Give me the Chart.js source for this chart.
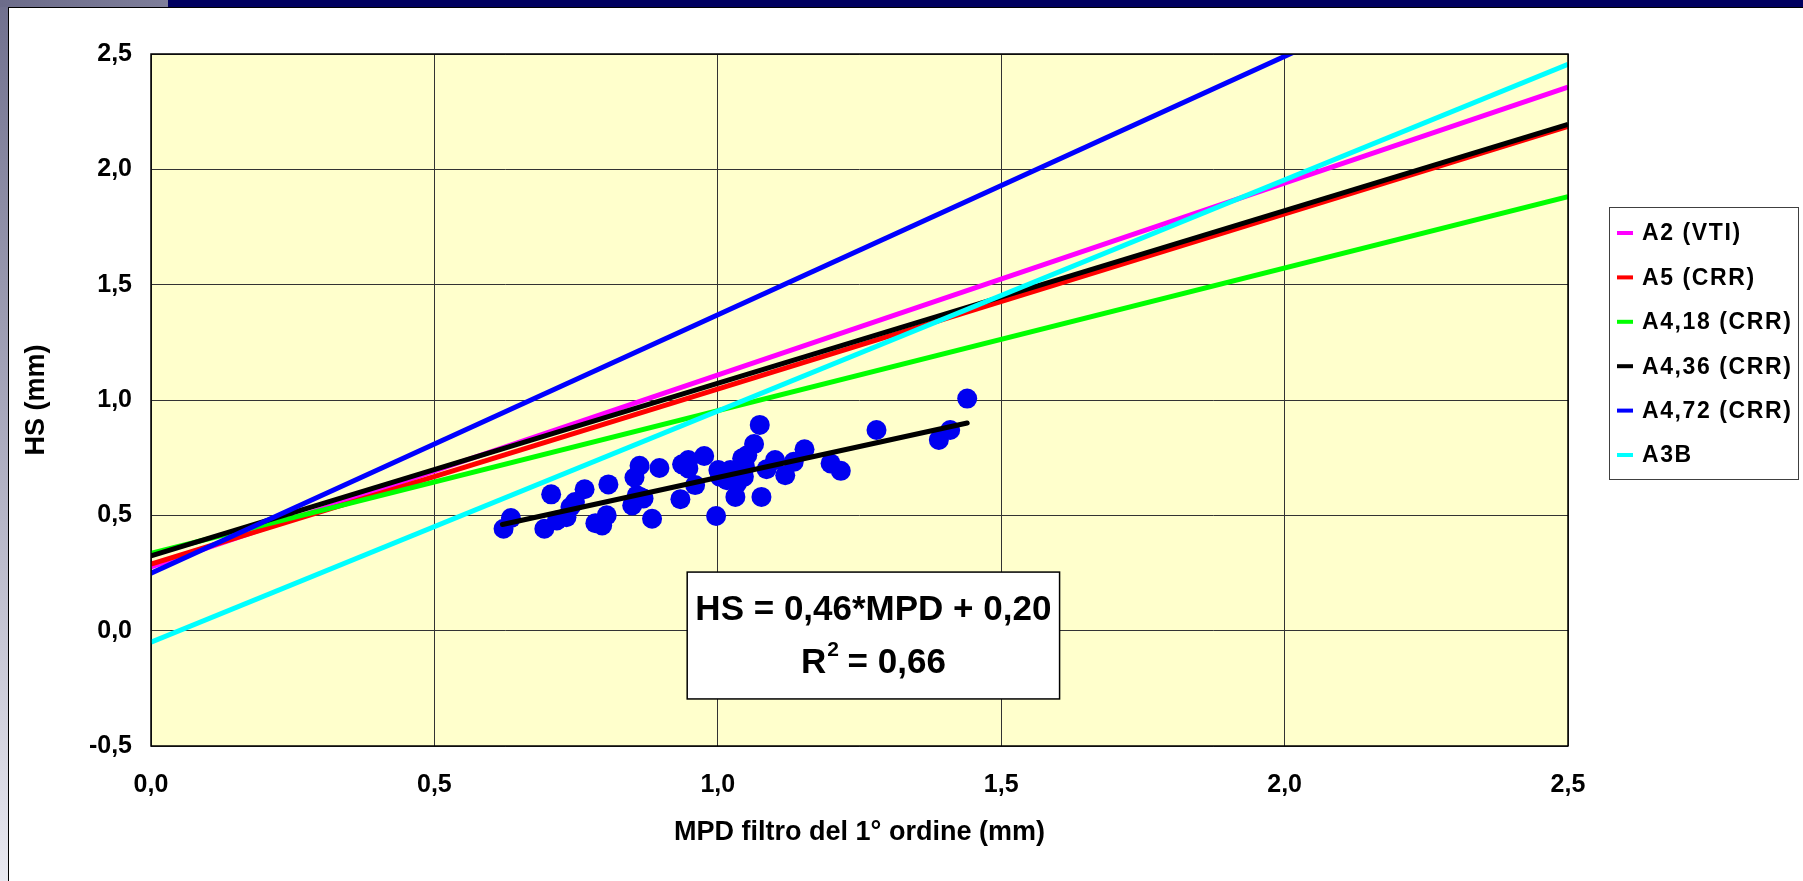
<!DOCTYPE html>
<html>
<head>
<meta charset="utf-8">
<script src="https://cdn.jsdelivr.net/npm/chart.js@4.4.1/dist/chart.umd.min.js"></script>
<style>
  html, body { margin: 0; padding: 0; width: 1803px; height: 881px; overflow: hidden; background: #fff; }
  #strip { position: absolute; left: 0; top: 0; width: 8px; height: 881px; background: linear-gradient(to bottom, #70708e, #e8e8f0); }
  #bar-l { position: absolute; left: 0; top: 0; width: 168px; height: 7px; background: linear-gradient(to right, #6c6c8a, #7e7e9a); }
  #bar-r { position: absolute; left: 168px; top: 0; width: 1635px; height: 7px; background: #000060; }
  #panel { position: absolute; left: 8px; top: 7px; width: 1795px; height: 874px; box-sizing: border-box;
           border-left: 1px solid #000; border-top: 1px solid #000; background: #fff; }
  #wrap { position: absolute; left: 9px; top: 8px; width: 1794px; height: 873px; }
</style>
</head>
<body>
<div id="strip"></div>
<div id="bar-l"></div>
<div id="bar-r"></div>
<div id="panel"></div>
<div id="wrap"><canvas id="chart" width="1794" height="873"></canvas></div>
<script>
// HS vs MPD: misure (punti blu), retta di regressione e modelli di letteratura.
(function () {
  "use strict";

  var FONT = "'Liberation Sans', Arial, sans-serif";

  // ---- dati ----
  var MPD = [0.622, 0.635, 0.694, 0.706, 0.716, 0.733, 0.740, 0.748, 0.765, 0.784,
             0.796, 0.804, 0.807, 0.849, 0.853, 0.857, 0.862, 0.863, 0.869, 0.884,
             0.897, 0.934, 0.937, 0.948, 0.948, 0.960, 0.976, 0.997, 1.001, 1.004,
             1.016, 1.022, 1.031, 1.034, 1.043, 1.046, 1.048, 1.052, 1.064, 1.074,
             1.077, 1.086, 1.101, 1.119, 1.134, 1.153, 1.199, 1.217, 1.280, 1.390,
             1.410, 1.440];
  var HS = [0.442, 0.488, 0.442, 0.591, 0.478, 0.492, 0.536, 0.558, 0.613, 0.466,
            0.456, 0.500, 0.634, 0.543, 0.664, 0.587, 0.715, 0.580, 0.573, 0.485,
            0.705, 0.570, 0.721, 0.703, 0.740, 0.631, 0.757, 0.497, 0.696, 0.667,
            0.652, 0.696, 0.580, 0.638, 0.747, 0.667, 0.710, 0.761, 0.809, 0.892,
            0.580, 0.700, 0.740, 0.674, 0.732, 0.786, 0.725, 0.693, 0.870, 0.827,
            0.870, 1.006];

  // retta di regressione (estremi sul grafico)
  var REG_X = [0.62, 1.44];
  var REG_Y = [0.46, 0.90];

  // modelli: valori a MPD = 0 e MPD = 2,5
  var X_ENDS = [0, 2.5];
  var A2_VTI = [0.277, 2.356];
  var A5_CRR = [0.289, 2.186];
  var A4_18_CRR = [0.335, 1.882];
  var A4_36_CRR = [0.324, 2.195];
  var A4_72_CRR = [0.249, 3.05];
  var A3B = [-0.05, 2.455];

  var MODEL_LABELS = ["A2 (VTI)", "A5 (CRR)", "A4,18 (CRR)", "A4,36 (CRR)", "A4,72 (CRR)", "A3B"];
  var MODEL_VALUES = [A2_VTI, A5_CRR, A4_18_CRR, A4_36_CRR, A4_72_CRR, A3B];
  var MODEL_COLORS = ["#FF00FF", "#FF0000", "#00FF00", "#000000", "#0000FF", "#00FFFF"];

  var X_TICKS = [0, 0.5, 1.0, 1.5, 2.0, 2.5];
  var Y_TICKS = [-0.5, 0, 0.5, 1.0, 1.5, 2.0, 2.5];

  var EQ_LINE1 = "HS = 0,46*MPD + 0,20";
  var EQ_R2 = "0,66";
  var EQ_BOX = { x0: 0.946, x1: 1.603, y0: 0.254, y1: -0.296 };

  function pairs(xs, ys) {
    return xs.map(function (x, i) { return { x: x, y: ys[i] }; });
  }
  function comma(v) {
    return Number(v).toFixed(1).replace(".", ",");
  }

  var datasets = [
    {
      label: "regressione",
      data: pairs(REG_X, REG_Y),
      showLine: true,
      borderColor: "#000",
      borderWidth: 5,
      borderCapStyle: "round",
      pointRadius: 0,
      order: 0,
    },
    {
      label: "misure",
      data: pairs(MPD, HS),
      showLine: false,
      backgroundColor: "#0000F0",
      borderColor: "#0000F0",
      borderWidth: 0,
      pointRadius: 10,
      order: 1,
    },
  ];
  MODEL_LABELS.forEach(function (name, i) {
    datasets.push({
      label: name,
      data: pairs(X_ENDS, MODEL_VALUES[i]),
      showLine: true,
      borderColor: MODEL_COLORS[i],
      borderWidth: 5,
      pointRadius: 0,
      order: 10 + (MODEL_LABELS.length - i),
    });
  });

  // sfondo giallo dell'area del grafico + bordo
  var plotFrame = {
    id: "plotFrame",
    beforeDraw: function (chart) {
      var a = chart.chartArea, ctx = chart.ctx;
      ctx.save();
      ctx.fillStyle = "#FFFFCC";
      ctx.fillRect(a.left, a.top, a.right - a.left, a.bottom - a.top);
      ctx.restore();
    },
    afterDraw: function (chart) {
      var a = chart.chartArea, ctx = chart.ctx;
      ctx.save();
      ctx.strokeStyle = "#000";
      ctx.lineWidth = 1.5;
      ctx.strokeRect(a.left, a.top, a.right - a.left, a.bottom - a.top);
      ctx.restore();
    },
  };

  // riquadro con equazione e R²
  var equation = {
    id: "equation",
    afterDraw: function (chart) {
      var x = chart.scales.x, y = chart.scales.y, ctx = chart.ctx;
      var l = x.getPixelForValue(EQ_BOX.x0), r = x.getPixelForValue(EQ_BOX.x1);
      var t = y.getPixelForValue(EQ_BOX.y0), b = y.getPixelForValue(EQ_BOX.y1);
      var h = b - t, cx = (l + r) / 2;
      ctx.save();
      ctx.fillStyle = "#fff";
      ctx.fillRect(l, t, r - l, h);
      ctx.strokeStyle = "#000";
      ctx.lineWidth = 1.5;
      ctx.strokeRect(l, t, r - l, h);
      ctx.fillStyle = "#000";
      ctx.textBaseline = "middle";
      ctx.textAlign = "center";
      ctx.font = "bold 35px " + FONT;
      ctx.fillText(EQ_LINE1, cx, t + h * 0.30);
      // R² = ...
      var big = "bold 35px " + FONT, small = "bold 21px " + FONT;
      ctx.textAlign = "left";
      ctx.font = big;
      var wR = ctx.measureText("R").width;
      var rest = " = " + EQ_R2;
      var wRest = ctx.measureText(rest).width;
      ctx.font = small;
      var w2 = ctx.measureText("2").width;
      var start = cx - (wR + w2 + wRest) / 2;
      var ly = t + h * 0.72;
      ctx.font = big;
      ctx.fillText("R", start, ly);
      ctx.font = small;
      ctx.fillText("2", start + wR + 1, ly - 13);
      ctx.font = big;
      ctx.fillText(rest, start + wR + w2, ly);
      ctx.restore();
    },
  };

  // legenda con cornice a destra
  var frameLegend = {
    id: "frameLegend",
    afterDraw: function (chart) {
      var a = chart.chartArea, ctx = chart.ctx;
      var left = a.right + 41, top = a.top + 153, w = 189, hgt = 272;
      ctx.save();
      ctx.strokeStyle = "#404040";
      ctx.lineWidth = 1;
      ctx.strokeRect(left + 0.5, top + 0.5, w, hgt);
      ctx.font = "bold 23px " + FONT;
      ctx.letterSpacing = "1.6px";
      ctx.textBaseline = "middle";
      ctx.textAlign = "left";
      MODEL_LABELS.forEach(function (name, i) {
        var cy = top + 26 + i * 44.4;
        ctx.fillStyle = MODEL_COLORS[i];
        ctx.fillRect(left + 8, cy - 2, 16, 4);
        ctx.fillStyle = "#000";
        ctx.fillText(name, left + 33, cy + 1);
      });
      ctx.restore();
    },
  };

  new Chart(document.getElementById("chart"), {
    type: "scatter",
    data: { datasets: datasets },
    plugins: [plotFrame, equation, frameLegend],
    options: {
      responsive: false,
      animation: false,
      devicePixelRatio: 1,
      layout: { padding: { left: 0, right: 235, top: 46, bottom: 0 } },
      plugins: { legend: { display: false }, tooltip: { enabled: false } },
      scales: {
        x: {
          type: "linear",
          min: 0,
          max: 2.5,
          afterFit: function (s) { s.height = 135; },
          afterBuildTicks: function (s) {
            s.ticks = X_TICKS.map(function (v) { return { value: v }; });
          },
          ticks: {
            callback: comma,
            color: "#000",
            padding: 24,
            maxRotation: 0,
            font: { family: FONT, size: 25, weight: "bold" },
          },
          grid: { color: "#333", lineWidth: 1, drawTicks: false },
          border: { display: false },
          title: {
            display: true,
            text: "MPD filtro del 1° ordine (mm)",
            color: "#000",
            font: { family: FONT, size: 27, weight: "bold" },
            padding: { top: 0, bottom: 32 },
          },
        },
        y: {
          type: "linear",
          min: -0.5,
          max: 2.5,
          afterFit: function (s) { s.width = 142; },
          afterBuildTicks: function (s) {
            s.ticks = Y_TICKS.map(function (v) { return { value: v }; });
          },
          ticks: {
            callback: comma,
            color: "#000",
            padding: 19,
            font: { family: FONT, size: 25, weight: "bold" },
          },
          grid: { color: "#333", lineWidth: 1, drawTicks: false },
          border: { display: false },
          title: {
            display: true,
            text: "HS (mm)",
            color: "#000",
            font: { family: FONT, size: 27, weight: "bold" },
            padding: { top: 11, bottom: 0 },
          },
        },
      },
    },
  });
})();
</script>
</body>
</html>
